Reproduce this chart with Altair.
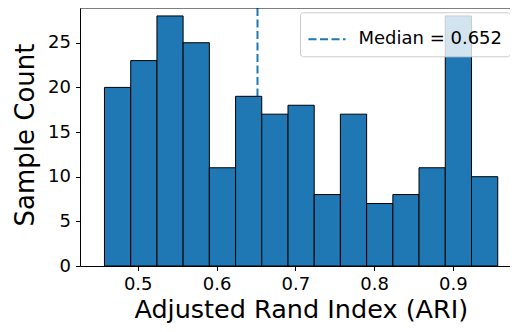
import altair as alt
import pandas as pd

# Histogram bin edges and counts
bin_edges = [0.4578, 0.4911, 0.5244, 0.5576, 0.5909, 0.6242, 0.6574, 0.6907,
             0.7240, 0.7572, 0.7905, 0.8238, 0.8570, 0.8903, 0.9236, 0.9569]
counts = [20, 23, 28, 25, 11, 19, 17, 18, 8, 17, 7, 8, 11, 28, 10]
median_value = 0.652
median_label = "Median = 0.652"
x_ticks = [0.5, 0.6, 0.7, 0.8, 0.9]
y_ticks = [0, 5, 10, 15, 20, 25]

bars_df = pd.DataFrame({
    "start": bin_edges[:-1],
    "end": bin_edges[1:],
    "count": counts,
})
median_df = pd.DataFrame({"x": [median_value], "label": [median_label]})

W, H = 430, 258
FONT = "DejaVu Sans"
x_scale = alt.Scale(domain=[0.4331, 0.9661], nice=False, zero=False)
y_scale = alt.Scale(domain=[0, 28.89], nice=False, zero=True, padding=0)

x_axis = alt.Axis(values=x_ticks, format=".1f", title="Adjusted Rand Index (ARI)",
                  titleX=220.8, titleY=51.5, titleBaseline="alphabetic",
                  titleFontSize=25.5, grid=False)
y_axis = alt.Axis(values=y_ticks, format="d", title="Sample Count",
                  titleX=-46.7, titleY=126.5, titleBaseline="alphabetic",
                  grid=False)

median_rule = alt.Chart(median_df).mark_rule(
    strokeDash=[8, 3.5], strokeWidth=2
).encode(
    x=alt.X("x:Q", scale=x_scale, axis=x_axis),
    color=alt.Color("label:N",
                    scale=alt.Scale(domain=[median_label], range=["#1f77b4"]),
                    legend=alt.Legend(title=None, orient="none",
                                      legendX=220, legendY=4.3,
                                      symbolType="stroke", symbolSize=1369,
                                      symbolStrokeWidth=2, symbolDash=[8, 3.5],
                                      labelFontSize=18, labelFont=FONT,
                                      labelColor="black", labelOffset=12,
                                      padding=7.5,
                                      fillColor="rgba(255,255,255,0.8)",
                                      strokeColor="#cccccc", cornerRadius=3)),
)

bars = alt.Chart(bars_df).mark_bar(
    color="#1f77b4", stroke="black", strokeWidth=1, opacity=1, orient="vertical"
).encode(
    x=alt.X("start:Q", scale=x_scale, axis=x_axis),
    x2="end:Q",
    y=alt.Y("count:Q", scale=y_scale, axis=y_axis),
    y2=alt.datum(0),
)

top_border = alt.Chart(median_df).mark_rule(color="black", strokeWidth=1).encode(
    x=alt.value(0), x2=alt.value(W), y=alt.value(0)
)

chart = alt.layer(median_rule, bars, top_border).properties(
    width=W, height=H,
    autosize=alt.AutoSizeParams(type="none"),
    padding={"left": 72, "top": 0, "right": 0, "bottom": 58},
).configure_view(stroke=None).configure_axis(
    labelFont=FONT, titleFont=FONT, labelFontSize=18, titleFontSize=26,
    labelColor="black", titleColor="black", titleFontWeight="normal",
    domainColor="black", domainWidth=1, tickColor="black", tickWidth=1,
    tickSize=4.5, labelPadding=5,
)

chart.save("out.html", embed_options={"renderer": "svg", "actions": False})
